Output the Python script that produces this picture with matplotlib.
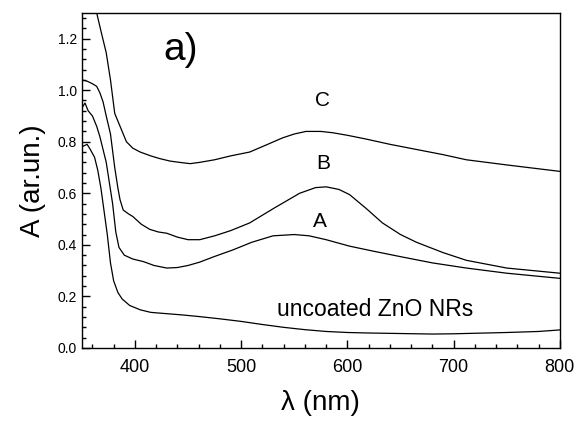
import matplotlib.pyplot as plt
from matplotlib.ticker import MultipleLocator

plt.rcParams["font.family"] = ["Liberation Sans", "DejaVu Sans"]

# Absorbance spectra (wavelength in nm)
wl_uncoated = [350, 355, 358, 362, 365, 368, 371, 374, 377, 380, 384, 388, 395, 405,
               415, 430, 445, 460, 480, 500, 520, 540, 560, 580, 600, 620, 650, 680,
               700, 750, 780, 800]
a_uncoated = [0.78, 0.79, 0.77, 0.74, 0.69, 0.62, 0.53, 0.44, 0.33, 0.26, 0.215, 0.19,
              0.165, 0.148, 0.138, 0.133, 0.128, 0.122, 0.113, 0.103, 0.091, 0.08, 0.071,
              0.064, 0.06, 0.058, 0.056, 0.054, 0.055, 0.06, 0.064, 0.07]

wl_A = [350, 353, 356, 360, 364, 367, 370, 373, 376, 379, 382, 385, 390, 398, 408, 418,
        430, 440, 450, 461, 475, 492, 510, 530, 550, 564, 580, 602, 625, 649, 680, 712,
        750, 800]
a_A = [0.93, 0.95, 0.92, 0.90, 0.86, 0.82, 0.77, 0.72, 0.64, 0.56, 0.45, 0.39, 0.36,
       0.345, 0.335, 0.32, 0.31, 0.312, 0.32, 0.333, 0.355, 0.38, 0.41, 0.435, 0.44,
       0.435, 0.42, 0.395, 0.375, 0.355, 0.33, 0.31, 0.29, 0.27]

wl_B = [350, 355, 360, 364, 367, 370, 373, 377, 381, 384, 386, 389, 394, 398, 406, 414,
        422, 430, 440, 450, 461, 475, 490, 508, 530, 555, 570, 580, 592, 602, 618, 633,
        650, 665, 690, 712, 750, 800]
a_B = [1.04, 1.035, 1.025, 1.015, 0.99, 0.955, 0.9, 0.83, 0.70, 0.62, 0.575, 0.535,
       0.52, 0.51, 0.48, 0.46, 0.45, 0.445, 0.43, 0.42, 0.42, 0.435, 0.455, 0.485, 0.54,
       0.60, 0.622, 0.625, 0.615, 0.595, 0.54, 0.485, 0.44, 0.41, 0.37, 0.34, 0.31, 0.29]

wl_C = [360, 364, 368, 373, 377, 381, 386, 392, 398, 405, 415, 423, 433, 442, 452, 461,
        475, 490, 508, 525, 539, 550, 561, 575, 586, 600, 618, 640, 665, 690, 712, 750,
        800]
a_C = [1.38, 1.30, 1.23, 1.145, 1.04, 0.91, 0.86, 0.80, 0.775, 0.76, 0.745, 0.735,
       0.725, 0.72, 0.715, 0.72, 0.73, 0.745, 0.76, 0.79, 0.815, 0.83, 0.84, 0.84, 0.835,
       0.825, 0.81, 0.79, 0.77, 0.75, 0.73, 0.71, 0.685]

fig = plt.figure(figsize=(5.76, 4.28), dpi=100)
ax = fig.add_axes([0.142, 0.187, 0.830, 0.783])

for wl, a in [(wl_uncoated, a_uncoated), (wl_A, a_A), (wl_B, a_B), (wl_C, a_C)]:
    ax.plot(wl, a, color="black", linewidth=0.9)

ax.set_xlim(350, 800)
ax.set_ylim(0, 1.3)
ax.xaxis.set_major_locator(MultipleLocator(100))
ax.xaxis.set_minor_locator(MultipleLocator(20))
ax.yaxis.set_major_locator(MultipleLocator(0.2))
ax.yaxis.set_minor_locator(MultipleLocator(0.04))
ax.yaxis.set_major_formatter(plt.FormatStrFormatter("%.1f"))
ax.tick_params(which="both", direction="in", top=False, right=False)
ax.tick_params(which="major", length=6, width=1)
ax.tick_params(which="minor", length=3, width=1)
ax.tick_params(axis="x", labelsize=13, pad=8)
ax.tick_params(axis="y", labelsize=10)
for s in ax.spines.values():
    s.set_linewidth(1)

ax.set_xlabel("λ (nm)", fontsize=20, labelpad=10)
ax.set_ylabel("A (ar.un.)", fontsize=20, labelpad=8)

ax.text(577, 0.96, "C", fontsize=15, ha="center", va="center")
ax.text(577, 0.715, "B", fontsize=15, ha="center", va="center")
ax.text(574, 0.49, "A", fontsize=15, ha="center", va="center")
ax.text(626, 0.148, "uncoated ZnO NRs", fontsize=16.5, ha="center", va="center")
ax.text(443, 1.157, "a)", fontsize=28, ha="center", va="center")

fig.savefig("out.png", dpi=100)
